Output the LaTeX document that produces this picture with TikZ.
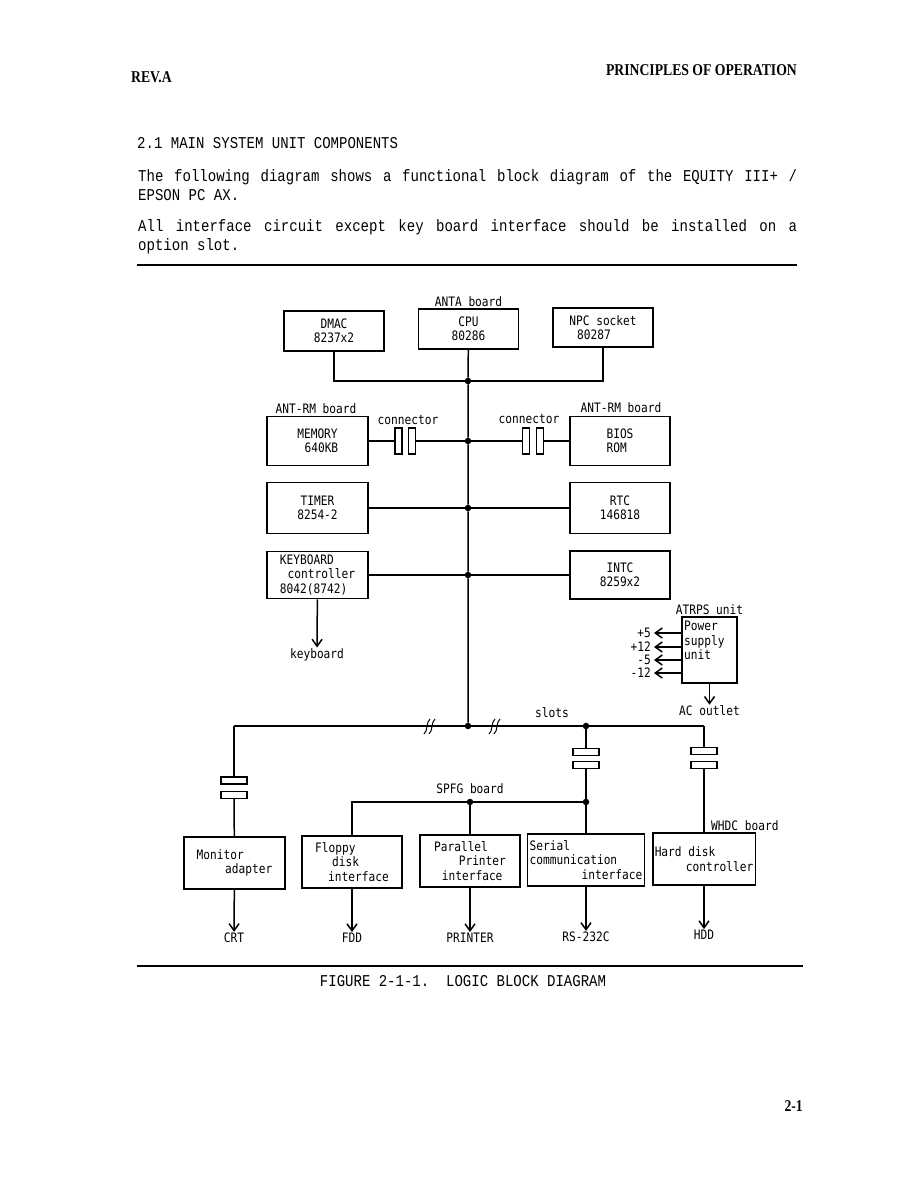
\documentclass[tikz,border=0pt]{standalone}
\usepackage{fontspec}
\usepackage{tikz}
\usetikzlibrary{arrows.meta, positioning}
\setmainfont{Liberation Serif}
\newfontfamily\dgmfont[FakeStretch=0.86]{DejaVu Sans Mono}
\newfontfamily\typefont[FakeStretch=0.85]{Liberation Mono}
\newfontfamily\hdrfont[FakeStretch=0.83]{Liberation Serif}
\newcommand{\dgm}{\dgmfont\fontsize{13}{14.5}\selectfont}
\newcommand{\txt}{\typefont\fontsize{16.5}{19}\selectfont}
\newcommand{\hdr}{\hdrfont\bfseries\fontsize{16.5}{18}\selectfont}
\newcommand{\just}[1]{\makebox[659pt][s]{\spaceskip=0.6em plus 1fil\relax #1}}

\tikzset{
  blk/.style={draw, line width=1.5pt, minimum width=100pt, minimum height=50pt,
    inner sep=2pt, font=\dgm, align=center},
  pinv/.style={draw, line width=1.2pt, minimum width=7pt, minimum height=26pt, inner sep=0pt},
  pinh/.style={draw, line width=1.2pt, minimum width=26pt, minimum height=7pt, inner sep=0pt},
  lbl/.style={font=\dgm, inner sep=1pt},
  wire/.style={line width=1.5pt},
  feed/.style={wire, -{Straight Barb[length=7pt,width=10pt]}},
  dot/.style={circle, fill, inner sep=0pt, minimum size=6.5pt},
}

\begin{document}
\begin{tikzpicture}[x=1pt, y=-1pt]
  \useasboundingbox (0,0) rectangle (918,1188);

  % page heading and text
  \node[anchor=base west, font=\hdr, inner sep=0pt] (rev) at (131,83) {REV.A};
  \node[anchor=base east, font=\hdr, inner sep=0pt] (chap) at (797,76) {PRINCIPLES OF OPERATION};
  \node[anchor=base west, font=\txt, inner sep=0pt] (sec) at (137,148) {2.1 MAIN SYSTEM UNIT COMPONENTS};
  \node[anchor=base west, font=\txt, inner sep=0pt] (par1) at (138,181)
    {\just{The following diagram shows a functional block diagram of the EQUITY III+ /}};
  \node[anchor=base west, font=\txt, inner sep=0pt] (par2) at (138,200) {EPSON PC AX.};
  \node[anchor=base west, font=\txt, inner sep=0pt] (par3) at (138,231)
    {\just{All interface circuit except key board interface should be installed on a}};
  \node[anchor=base west, font=\txt, inner sep=0pt] (par4) at (138,250) {option slot.};
  \draw[line width=2pt] (137,265) -- (797,265);

  % ANTA board
  \node[blk, minimum height=40pt] (dmac) at (334,331) {DMAC\\8237x2};
  \node[blk, minimum height=40pt] (cpu) at (468.5,329) {CPU\\80286};
  \node[blk, minimum height=39pt, align=left] (npc) at (603,327.5) {NPC socket\\\hspace*{0.6em}80287};
  \node[lbl, above=0pt of cpu] (anta) {ANTA board};

  \node[dot] (j1) at (468,381) {};
  \node[dot] (j2) at (468,441) {};
  \node[dot] (j3) at (468,508) {};
  \node[dot] (j4) at (468,575) {};
  \node[dot] (j5) at (468,726) {};
  \draw[wire] (cpu) -- (j1) -- (j2) -- (j3) -- (j4) -- (j5);
  \draw[wire] (dmac) |- (j1) -| (npc);

  % ANT-RM boards
  \node[blk, minimum width=101pt, minimum height=49pt] (mem) at (317.5,441) {MEMORY\\\hspace*{0.6em}640KB};
  \node[blk, minimum height=49pt, align=left] (bios) at (620,441) {BIOS\\ROM};
  \node[lbl, anchor=south] (rmL) at (316,415) {ANT-RM board};
  \node[lbl, anchor=south] (rmR) at (621,414) {ANT-RM board};
  \node[pinv] (cl1) at (398.5,441) {};
  \node[pinv] (cl2) at (412,441) {};
  \node[pinv] (cr1) at (526,441) {};
  \node[pinv] (cr2) at (540,441) {};
  \node[lbl] (conL) at (408,420) {connector};
  \node[lbl] (conR) at (529,419) {connector};
  \draw[wire] (mem) -- (cl1);
  \draw[wire] (cl2) -- (j2) -- (cr1);
  \draw[wire] (cr2) -- (bios);

  % peripherals on the bus
  \node[blk, minimum width=101pt, minimum height=51pt] (timer) at (317.5,508) {TIMER\\8254-2};
  \node[blk, minimum height=51pt] (rtc) at (620,508) {RTC\\146818};
  \draw[wire] (timer) -- (j3) -- (rtc);
  \node[blk, minimum width=101pt, minimum height=47pt, align=left] (kbd) at (317.5,575)
    {KEYBOARD\\\hspace*{0.6em}controller\\8042(8742)};
  \node[blk, minimum height=48pt] (intc) at (620,575) {INTC\\8259x2};
  \draw[wire] (kbd) -- (j4) -- (intc);
  \node[lbl] (kbdout) at (317,655) {keyboard};
  \draw[feed] (kbd) -- (kbdout);

  % power supply
  \node[blk, minimum width=55pt, minimum height=66pt] (psu) at (709.5,650) {};
  \node[lbl, anchor=north west, align=left] (psutxt) at (683,620) {Power\\supply\\unit};
  \node[lbl, above=0pt of psu] (atrps) {ATRPS unit};
  \foreach \nm/\vy/\vt in {v5/633/+5, v12/647/+12, vm5/660/-5, vm12/673/-12} {
    \node[lbl, anchor=east, inner xsep=3pt] (\nm) at (654,\vy) {\vt};
    \draw[feed] (psu.west |- \nm.east) -- (\nm.east);
  }
  \node[lbl] (ac) at (709.5,711) {AC outlet};
  \draw[feed] (psu) -- (ac);

  % slots
  \coordinate (slotL) at (234,726);
  \coordinate (slotR) at (704,726);
  \node[dot] (j6) at (586,726) {};
  \draw[wire] (slotL) -- (j5) -- (j6) -- (slotR);
  \foreach \bx in {430,495} {
    \draw[line width=1pt] (\bx-6,734) .. controls (\bx-2,731) and (\bx-4,722) .. (\bx,719);
    \draw[line width=1pt] (\bx-1,734) .. controls (\bx+3,731) and (\bx+1,722) .. (\bx+5,719);
  }
  \node[lbl] (slots) at (552,713) {slots};

  \node[blk, minimum width=101pt, minimum height=52pt, align=left] (mon) at (234.5,863)
    {Monitor\\\hspace*{2.2em}adapter};
  \node[blk, minimum height=52pt, align=left] (fdc) at (352,862)
    {Floppy\\\hspace*{1.3em}disk\\\hspace*{1em}interface};
  \node[blk, minimum height=52pt, align=left] (lpt) at (470,861)
    {Parallel\\\hspace*{1.9em}Printer\\\hspace*{0.6em}interface};
  \node[blk, minimum height=52pt, align=left] (ser) at (586,860)
    {Serial\\communication\\\hspace*{4em}interface};
  \node[blk, minimum height=52pt, align=left] (hdc) at (704,859)
    {Hard disk\\\hspace*{2.4em}controller};

  \node[pinh] (mc1) at (234,780.5) {};
  \node[pinh] (mc2) at (234,795) {};
  \draw[wire] (slotL) -- (mc1);
  \draw[wire] (mc2) -- (mon);

  \node[pinh] (sc1) at (586,752) {};
  \node[pinh] (sc2) at (586,765) {};
  \node[dot] (j7) at (586,802) {};
  \node[dot] (j8) at (470,802) {};
  \draw[wire] (j6) -- (sc1);
  \draw[wire] (sc2) -- (j7) -- (ser);
  \draw[wire] (fdc) |- (j8) -- (j7);
  \draw[wire] (j8) -- (lpt);
  \node[lbl] (spfg) at (470,789) {SPFG board};

  \node[pinh] (hc1) at (704,751) {};
  \node[pinh] (hc2) at (704,765) {};
  \draw[wire] (slotR) -- (hc1);
  \draw[wire] (hc2) -- (hdc);
  \node[lbl, anchor=south west] (whdc) at (hdc.north -| 710,0) {WHDC board};

  % outputs
  \node[lbl] (crt) at (234,938) {CRT};
  \node[lbl] (fdd) at (352,938) {FDD};
  \node[lbl] (prn) at (470,938) {PRINTER};
  \node[lbl] (rs) at (586,937) {RS-232C};
  \node[lbl] (hdd) at (704,935) {HDD};
  \draw[feed] (mon) -- (crt);
  \draw[feed] (fdc) -- (fdd);
  \draw[feed] (lpt) -- (prn);
  \draw[feed] (ser) -- (rs);
  \draw[feed] (hdc) -- (hdd);

  % caption
  \draw[line width=2pt] (137,966) -- (803,966);
  \node[anchor=base, font=\txt, inner sep=0pt] (cap) at (463,986) {FIGURE 2-1-1.\ \ LOGIC BLOCK DIAGRAM};
  \node[anchor=base east, font=\hdr, inner sep=0pt] (pg) at (803,1111) {2-1};
\end{tikzpicture}
\end{document}
